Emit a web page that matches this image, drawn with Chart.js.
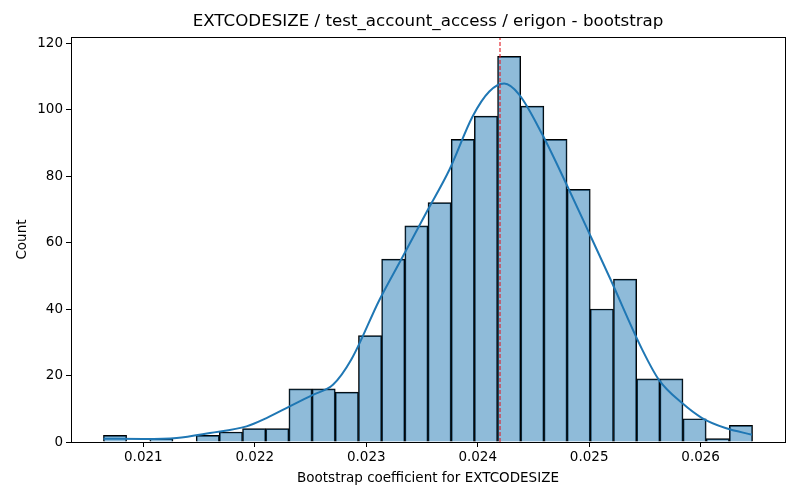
<!DOCTYPE html>
<html lang="en">
<head>
  <meta charset="UTF-8">
  <title>EXTCODESIZE bootstrap</title>
  <script src="https://cdn.jsdelivr.net/npm/chart.js"></script>
  <style>
    html, body { margin: 0; padding: 0; background: #fff; }
    #wrap { width: 800px; height: 500px; }
  </style>
</head>
<body>
<div id="wrap"><canvas id="myChart" width="800" height="500"></canvas></div>

<script>
  // histogram bins (centres) and counts
  const binCenters = [
    0.020746, 0.020954, 0.021162, 0.021370, 0.021578, 0.021786, 0.021994,
    0.022202, 0.022410, 0.022618, 0.022826, 0.023034, 0.023242, 0.023450,
    0.023658, 0.023866, 0.024074, 0.024282, 0.024490, 0.024698, 0.024906,
    0.025114, 0.025322, 0.025530, 0.025738, 0.025946, 0.026154, 0.026362
  ];
  const counts = [
    2, 0, 1, 0, 2, 3, 4, 4, 16, 16, 15, 32, 55, 65,
    72, 91, 98, 116, 101, 91, 76, 40, 49, 19, 19, 7, 1, 5
  ];

  // kde curve
  const kdeX = [
    0.020642, 0.021000, 0.021299, 0.021597, 0.021926, 0.022105, 0.022313,
    0.022522, 0.022701, 0.022866, 0.023119, 0.023328, 0.023537, 0.023746,
    0.023954, 0.024104, 0.024238, 0.024372, 0.024581, 0.024791, 0.024999,
    0.025193, 0.025476, 0.025626, 0.025834, 0.026013, 0.026223, 0.026461
  ];
  const kdeY = [
    1.0, 0.9, 1.2, 2.7, 4.7, 7.2, 10.7,
    14.2, 17.2, 24.8, 42.8, 55.8, 68.9, 81.9,
    97.9, 105.4, 107.8, 104.5, 92.4, 77.9, 62.9,
    48.8, 27.8, 18.7, 11.7, 7.2, 4.2, 2.2
  ];

  const meanLine = 0.0242;
  const xTicks = [0.021, 0.022, 0.023, 0.024, 0.025, 0.026];
  const yTicks = [0, 20, 40, 60, 80, 100, 120];
  const xMin = 0.020351, xMax = 0.026757;
  const yMax = 121.8;

  const FONT = 'DejaVu Sans';

  // full box around the plot, like matplotlib spines
  // and the title centred over the plot area instead of the canvas
  const frame = {
    id: 'frame',
    afterLayout(chart) {
      if (chart.titleBlock) {
        chart.titleBlock.left = chart.chartArea.left;
        chart.titleBlock.right = chart.chartArea.right;
      }
    },
    afterDatasetsDraw(chart) {
      const a = chart.chartArea, c = chart.ctx;
      c.save();
      c.strokeStyle = '#000';
      c.lineWidth = 1;
      c.strokeRect(Math.round(a.left) + 0.5, Math.round(a.top) + 0.5,
        Math.round(a.right - a.left), Math.round(a.bottom - a.top));
      c.restore();
    }
  };

  const ctx = document.getElementById('myChart').getContext('2d');
  new Chart(ctx, {
    type: 'bar',
    data: {
      datasets: [
        {
          type: 'line',
          data: [{x: meanLine, y: 0}, {x: meanLine, y: yMax}],
          borderColor: '#e01b24',
          borderWidth: 1.1,
          borderDash: [4, 2],
          pointRadius: 0,
          order: 0
        },
        {
          type: 'line',
          data: kdeX.map((x, i) => ({x: x, y: kdeY[i]})),
          borderColor: '#1f77b4',
          borderWidth: 2,
          pointRadius: 0,
          cubicInterpolationMode: 'monotone',
          order: 1
        },
        {
          type: 'bar',
          data: binCenters.map((x, i) => ({x: x, y: counts[i]})),
          backgroundColor: 'rgba(31, 119, 180, 0.5)',
          borderColor: '#000',
          borderWidth: 1,
          borderSkipped: 'start',
          barPercentage: 1,
          categoryPercentage: 1,
          grouped: false,
          order: 2
        }
      ]
    },
    options: {
      responsive: false,
      animation: false,
      devicePixelRatio: 1,
      layout: { padding: { left: 0, right: 15, top: 0, bottom: 0 } },
      plugins: {
        legend: { display: false },
        tooltip: { enabled: false },
        title: {
          display: true,
          text: 'EXTCODESIZE / test_account_access / erigon - bootstrap',
          color: '#000',
          font: { family: FONT, size: 16.7, weight: 'normal' },
          padding: { top: 12, bottom: 5 }
        }
      },
      scales: {
        x: {
          type: 'linear',
          min: xMin,
          max: xMax,
          offset: false,
          afterBuildTicks: s => { s.ticks = xTicks.map(v => ({value: v})); },
          afterFit: s => { s.height = 58; },
          grid: { display: true, drawOnChartArea: false, offset: false, color: '#000', tickLength: 5 },
          border: { display: true, color: '#000' },
          ticks: {
            color: '#000',
            font: { family: FONT, size: 13.5 },
            padding: 2,
            maxRotation: 0,
            callback: v => v.toFixed(3)
          },
          title: {
            display: true,
            text: 'Bootstrap coefficient for EXTCODESIZE',
            color: '#000',
            font: { family: FONT, size: 13.5 },
            padding: { top: 0, bottom: 13 }
          }
        },
        y: {
          min: 0,
          max: yMax,
          afterBuildTicks: s => { s.ticks = yTicks.map(v => ({value: v})); },
          afterFit: s => { s.width = 71; },
          grid: { display: true, drawOnChartArea: false, color: '#000', tickLength: 5 },
          border: { display: true, color: '#000' },
          ticks: {
            color: '#000',
            font: { family: FONT, size: 13.5 },
            padding: 3
          },
          title: {
            display: true,
            text: 'Count',
            color: '#000',
            font: { family: FONT, size: 13.5 },
            padding: { top: 14, bottom: 0 }
          }
        }
      }
    },
    plugins: [frame]
  });
</script>
</body>
</html>
